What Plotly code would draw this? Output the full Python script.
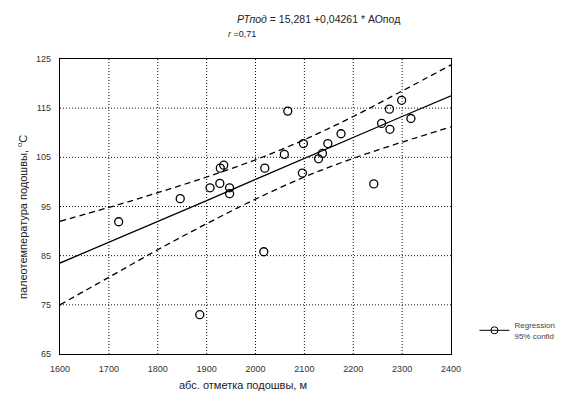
import plotly.graph_objects as go

# scatter data (abs. elevation of base, m ; paleotemperature, °C)
elev = [1720, 1846, 1886, 1907, 1927, 1928, 1935, 1947, 1947, 2017, 2019, 2059,
        2066, 2096, 2098, 2129, 2137, 2148, 2175, 2242, 2258, 2274, 2275, 2299, 2318]
temp = [91.9, 96.6, 73.0, 98.8, 99.7, 102.8, 103.4, 98.8, 97.6, 85.8, 102.8, 105.6,
        114.4, 101.8, 107.8, 104.7, 105.8, 107.8, 109.8, 99.6, 111.9, 114.8, 110.7, 116.6, 112.9]

# regression line and 95% confidence band, read at grid positions
band_x = [1600, 1700, 1800, 1900, 2000, 2100, 2200, 2300, 2400]
reg_y = [83.5, 87.7, 92.0, 96.2, 100.5, 104.8, 109.0, 113.3, 117.5]
upper_y = [92.0, 94.8, 97.8, 101.0, 104.5, 108.6, 113.3, 118.5, 123.8]
lower_y = [75.0, 80.6, 86.2, 91.5, 96.5, 101.0, 104.8, 108.1, 111.2]

x_ticks = [1600, 1700, 1800, 1900, 2000, 2100, 2200, 2300, 2400]
y_ticks = [65, 75, 85, 95, 105, 115, 125]

FONT = "Liberation Sans"
fig = go.Figure()

# dotted grid lines at the tick positions
grid_line = dict(color="#111", width=1, dash="1px,2px")
for xv in x_ticks[1:-1]:
    fig.add_shape(type="line", xref="x", yref="paper", x0=xv, x1=xv, y0=0, y1=1, line=grid_line, layer="below")
for yv in y_ticks[1:-1]:
    fig.add_shape(type="line", xref="paper", yref="y", x0=0, x1=1, y0=yv, y1=yv, line=grid_line, layer="below")

fig.add_trace(go.Scatter(x=band_x, y=upper_y, mode="lines", line=dict(color="black", width=1.3, dash="6px,4px", shape="spline"), showlegend=False))
fig.add_trace(go.Scatter(x=band_x, y=lower_y, mode="lines", line=dict(color="black", width=1.3, dash="6px,4px", shape="spline"), showlegend=False))
fig.add_trace(go.Scatter(x=band_x, y=reg_y, mode="lines", line=dict(color="black", width=1.3), showlegend=False))
fig.add_trace(go.Scatter(x=elev, y=temp, mode="markers",
                         marker=dict(symbol="circle-open", size=8, color="black", line=dict(width=1.3)),
                         showlegend=False))
fig.add_trace(go.Scatter(x=[None], y=[None], mode="lines+markers", name="Regression<br>95% confid",
                         line=dict(color="black", width=1),
                         marker=dict(symbol="circle-open", size=7, color="black")))

axis_common = dict(showline=True, mirror=True, linecolor="black", linewidth=1.3,
                   showgrid=False,
                   zeroline=False, ticks="outside", ticklen=6, tickcolor="rgba(0,0,0,0)",
                   tickfont=dict(family=FONT, size=9, color="#333"))
fig.update_xaxes(range=[1600, 2400], tickvals=x_ticks, **axis_common)
fig.update_yaxes(range=[65, 125], tickvals=y_ticks, **axis_common)

L, T, R, B = 52, 51, 124, 57
fig.update_layout(
    width=567, height=403,
    margin=dict(l=L, r=R, t=T, b=B),
    paper_bgcolor="white", plot_bgcolor="white",
    font=dict(family=FONT, color="black"),
    legend=dict(x=1.06, y=0.08, xanchor="left", yanchor="middle",
                font=dict(family=FONT, size=8, color="#444"), bgcolor="rgba(0,0,0,0)",
                itemwidth=30),
)
# positions given relative to the plot frame (frame: x 58..449, y 57..352 in the reference)
ann = [
    ("<i>РТпод</i> = 15,281 +0,04261 * АОпод", 316, 17, 10.5, 0),
    ("<i>r</i> =0,71", 240, 32, 9, 0),
    ("абс. отметка подошвы, м", 241, 383, 11, 0),
    ("палеотемпература подошвы, <sup>o</sup>C", 20, 215, 11, -90),
]
pw, ph = 449 - 58, 352 - 57
for text, px, py, size, ang in ann:
    fig.add_annotation(text=text, x=(px - 58) / pw, y=1 - (py - 57) / ph, xref="paper", yref="paper",
                       xanchor="center", yanchor="middle", showarrow=False, textangle=ang,
                       font=dict(size=size, family=FONT, color="#222"))

fig.write_html("out.html")
